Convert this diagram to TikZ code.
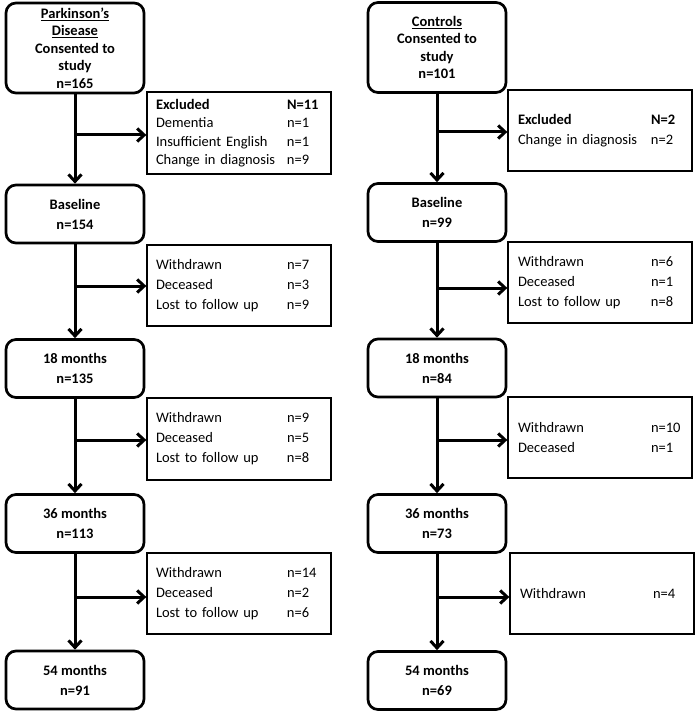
\documentclass[tikz,border=0pt]{standalone}
\usepackage{fontspec}
\setmainfont{Carlito}
\usetikzlibrary{arrows.meta}
\begin{document}
\begin{tikzpicture}[x=1pt,y=-1pt,
  mainbox/.style={draw,line width=2.7pt,rounded corners=10pt,minimum width=138pt,minimum height=58pt,align=center,inner sep=0pt,font=\fontsize{14.5}{20}\selectfont\bfseries},
  topbox/.style={mainbox,minimum height=90pt,font=\fontsize{14.5}{17.5}\selectfont\bfseries},
  sidebox/.style={draw,line width=1.3pt,minimum width=184pt,minimum height=81pt,inner xsep=9pt,inner ysep=0pt,text width=166pt,align=left,font=\fontsize{14.5}{20}\selectfont},
  rsidebox/.style={sidebox,inner xsep=10pt,text width=164pt},
  arr/.style={line width=3pt,-{Straight Barb[length=7pt,width=13pt]}}]
\useasboundingbox (0,0) rectangle (697,711);
% left column
\node[topbox] (p0) at (75,48) {\underline{Parkinson’s}\\\underline{Disease}\\Consented to\\study\\n=165};
\node[mainbox] (p1) at (75,214) {Baseline\\n=154};
\node[mainbox] (p2) at (75,368.5) {18 months\\n=135};
\node[mainbox] (p3) at (75,523.5) {36 months\\n=113};
\node[mainbox] (p4) at (75,680) {54 months\\n=91};
\node[sidebox,minimum height=82pt,font=\fontsize{14.5}{18.5}\selectfont] (pe) at (239,133) {\makebox[131pt][l]{\bfseries Excluded}\textbf{N=11}\\\makebox[131pt][l]{Dementia}n=1\\\makebox[131pt][l]{Insufficient English}n=1\\\makebox[131pt][l]{Change in diagnosis}n=9};
\node[sidebox] (pw1) at (239,285.5) {\makebox[131pt][l]{Withdrawn}n=7\\\makebox[131pt][l]{Deceased}n=3\\\makebox[131pt][l]{Lost to follow up}n=9};
\node[sidebox,minimum height=82pt] (pw2) at (239,439) {\makebox[131pt][l]{Withdrawn}n=9\\\makebox[131pt][l]{Deceased}n=5\\\makebox[131pt][l]{Lost to follow up}n=8};
\node[sidebox] (pw3) at (239,593.5) {\makebox[131pt][l]{Withdrawn}n=14\\\makebox[131pt][l]{Deceased}n=2\\\makebox[131pt][l]{Lost to follow up}n=6};
% right column
\node[topbox] (c0) at (437,47.5) {\underline{Controls}\\Consented to\\study\\n=101};
\node[mainbox] (c1) at (437,212.5) {Baseline\\n=99};
\node[mainbox] (c2) at (437,368) {18 months\\n=84};
\node[mainbox] (c3) at (437,523.5) {36 months\\n=73};
\node[mainbox] (c4) at (437,680.5) {54 months\\n=69};
\node[rsidebox] (ce) at (600,130.5) {\makebox[133pt][l]{\bfseries Excluded}\textbf{N=2}\\\makebox[133pt][l]{Change in diagnosis}n=2};
\node[rsidebox] (cw1) at (600,282.5) {\makebox[133pt][l]{Withdrawn}n=6\\\makebox[133pt][l]{Deceased}n=1\\\makebox[133pt][l]{Lost to follow up}n=8};
\node[rsidebox] (cw2) at (600,437.5) {\makebox[133pt][l]{Withdrawn}n=10\\\makebox[133pt][l]{Deceased}n=1};
\node[rsidebox] (cw3) at (602,593.5) {\makebox[133pt][l]{Withdrawn}n=4};
% branch points
\coordinate (pb0) at (75,135);
\coordinate (pb1) at (75,286);
\coordinate (pb2) at (75,440);
\coordinate (pb3) at (75,597);
\coordinate (cb0) at (437,132);
\coordinate (cb1) at (437,288);
\coordinate (cb2) at (437,440);
\coordinate (cb3) at (437,597);
% vertical arrows
\draw[arr] (p0.south) -- (p1.north);
\draw[arr] (p1.south) -- (p2.north);
\draw[arr] (p2.south) -- (p3.north);
\draw[arr] (p3.south) -- (p4.north);
\draw[arr] (c0.south) -- (c1.north);
\draw[arr] (c1.south) -- (c2.north);
\draw[arr] (c2.south) -- (c3.north);
\draw[arr] (c3.south) -- (c4.north);
% horizontal arrows
\draw[arr] (pb0) -- (pb0 -| pe.west);
\draw[arr] (pb1) -- (pb1 -| pw1.west);
\draw[arr] (pb2) -- (pb2 -| pw2.west);
\draw[arr] (pb3) -- (pb3 -| pw3.west);
\draw[arr] (cb0) -- (cb0 -| ce.west);
\draw[arr] (cb1) -- (cb1 -| cw1.west);
\draw[arr] (cb2) -- (cb2 -| cw2.west);
\draw[arr] (cb3) -- (cb3 -| cw3.west);
\end{tikzpicture}
\end{document}
